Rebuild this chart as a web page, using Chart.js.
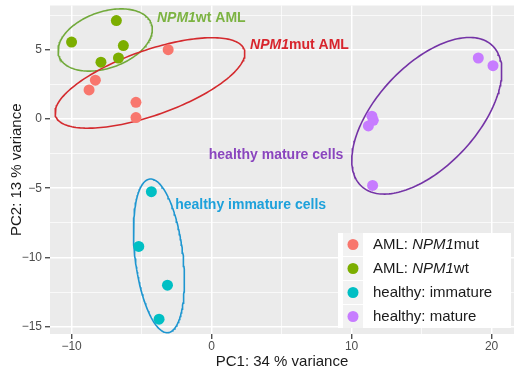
<!DOCTYPE html>
<html>
<head>
<meta charset="utf-8">
<script src="https://cdn.jsdelivr.net/npm/chart.js@4.4.0/dist/chart.umd.min.js"></script>
<style>
  html, body { margin: 0; padding: 0; background: #fff; }
  #wrap { width: 520px; height: 368px; }
</style>
</head>
<body>
<div id="wrap"><canvas id="pca"></canvas></div>
<script>
// groups / legend
var groupNames = ['AML: NPM1mut', 'AML: NPM1wt', 'healthy: immature', 'healthy: mature'];
var groupColors = ['#F8766D', '#7CAE00', '#00BFC4', '#C77CFF'];

// PC1 / PC2 scores
var mutPC1 = [-3.1, -8.3, -8.75, -5.4, -5.4];
var mutPC2 = [5.0, 2.8, 2.1, 1.2, 0.1];
var wtPC1 = [-10.0, -6.8, -6.3, -6.65, -7.9];
var wtPC2 = [5.55, 7.1, 5.3, 4.4, 4.1];
var immPC1 = [-4.3, -5.2, -3.15, -3.75];
var immPC2 = [-5.25, -9.2, -12.0, -14.45];
var matPC1 = [19.05, 20.1, 11.45, 11.55, 11.2, 11.5];
var matPC2 = [4.4, 3.85, 0.2, -0.1, -0.5, -4.8];

var xTicks = [-10, 0, 10, 20];
var yTicks = [-15, -10, -5, 0, 5];

// hand drawn ellipses (centre, semi axes, tilt in degrees)
var ellCx = [-4.4, -7.6, -3.76, 15.37];
var ellCy = [2.6, 5.7, -9.88, 0.23];
var ellA = [7.15, 3.5, 5.58, 6.9];
var ellB = [2.34, 2.03, 1.71, 3.61];
var ellTilt = [19.7, 19.7, -83.3, 47.7];
var ellColors = ['#D42A2E', '#72AA3C', '#1E96D0', '#7433A6'];

// group labels
var noteItalic = ['NPM1', 'NPM1', '', ''];
var noteRest = ['mut AML', 'wt AML', 'healthy immature cells', 'healthy mature cells'];
var noteX = [2.75, -3.9, -2.6, -0.2];
var noteY = [5.36, 7.26, -6.2, -2.6];
var noteColors = ['#D8252D', '#7CB342', '#1DA1DB', '#8A45BE'];

var FONT = '"Liberation Sans", Arial, sans-serif';
Chart.defaults.font.family = FONT;

function pairs(xs, ys) {
  var out = [];
  for (var i = 0; i < xs.length; i++) out.push({ x: xs[i], y: ys[i] });
  return out;
}

function ellipse(i) {
  var pts = [];
  var t = ellTilt[i] * Math.PI / 180;
  for (var k = 0; k <= 180; k++) {
    var a = k / 180 * 2 * Math.PI;
    var u = ellA[i] * Math.cos(a), v = ellB[i] * Math.sin(a);
    pts.push({ x: ellCx[i] + u * Math.cos(t) - v * Math.sin(t), y: ellCy[i] + u * Math.sin(t) + v * Math.cos(t) });
  }
  return pts;
}

var groupPoints = [pairs(mutPC1, mutPC2), pairs(wtPC1, wtPC2), pairs(immPC1, immPC2), pairs(matPC1, matPC2)];

var datasets = [];
for (var g = 0; g < 4; g++) {
  datasets.push({
    label: groupNames[g],
    data: groupPoints[g],
    backgroundColor: groupColors[g],
    borderWidth: 0,
    pointRadius: 5.5,
    pointHoverRadius: 5.5
  });
}
for (var e = 0; e < 4; e++) {
  datasets.push({
    label: 'ellipse' + e,
    data: ellipse(e),
    showLine: true,
    fill: false,
    tension: 0,
    borderColor: ellColors[e],
    borderWidth: 1.6,
    pointRadius: 0,
    pointHoverRadius: 0
  });
}

function withMinors(majors, min, max) {
  var step = majors[1] - majors[0];
  var vals = majors.slice();
  for (var i = 0; i < majors.length - 1; i++) vals.push((majors[i] + majors[i + 1]) / 2);
  if (majors[0] - step / 2 >= min) vals.push(majors[0] - step / 2);
  if (majors[majors.length - 1] + step / 2 <= max) vals.push(majors[majors.length - 1] + step / 2);
  vals.sort(function (a, b) { return a - b; });
  return vals.map(function (v) { return { value: v }; });
}

function fmt(v) { return v < 0 ? '\u2212' + Math.abs(v) : String(v); }

function axis(majors, min, max) {
  var isMajor = function (c) { return c.tick && majors.indexOf(c.tick.value) >= 0; };
  return {
    type: 'linear',
    min: min,
    max: max,
    afterBuildTicks: function (s) { s.ticks = withMinors(majors, min, max); },
    border: { display: false },
    grid: {
      color: '#FFFFFF',
      lineWidth: function (c) { return isMajor(c) ? 1.5 : 0.7; },
      tickColor: function (c) { return isMajor(c) ? '#333333' : 'rgba(0,0,0,0)'; },
      tickLength: 5,
      tickWidth: 1.2
    },
    ticks: {
      autoSkip: false,
      maxRotation: 0,
      color: '#4D4D4D',
      font: { size: 12 },
      callback: function (v) { return majors.indexOf(v) >= 0 ? fmt(v) : ''; }
    }
  };
}

var xAxis = axis(xTicks, -11.54, 21.6);
xAxis.afterFit = function (s) { s.height = 34; s.paddingLeft = 0; s.paddingRight = 0; };
xAxis.ticks.padding = 0;
xAxis.title = { display: true, text: 'PC1: 34 % variance', color: '#1A1A1A', font: { size: 15, lineHeight: '13px' }, padding: 0 };

var yAxis = axis(yTicks, -15.52, 8.19);
yAxis.afterFit = function (s) { s.width = 50; s.paddingTop = 0; s.paddingBottom = 0; };
yAxis.ticks.padding = 3;
yAxis.title = { display: true, text: 'PC2: 13 % variance', color: '#1A1A1A', font: { size: 15, lineHeight: '13px' }, padding: { top: 10, bottom: 0 } };

function richText(ctx, italicPart, rest, x, y, size, weight, color) {
  ctx.fillStyle = color;
  ctx.textBaseline = 'middle';
  ctx.textAlign = 'left';
  if (italicPart) {
    ctx.font = 'italic ' + weight + ' ' + size + 'px ' + FONT;
    ctx.fillText(italicPart, x, y);
    x += ctx.measureText(italicPart).width;
  }
  ctx.font = weight + ' ' + size + 'px ' + FONT;
  ctx.fillText(rest, x, y);
}

var panel = {
  id: 'panel',
  beforeDraw: function (chart) {
    var c = chart.ctx, a = chart.chartArea;
    c.save();
    c.fillStyle = '#FFFFFF';
    c.fillRect(0, 0, chart.width, chart.height);
    c.fillStyle = '#EBEBEB';
    c.fillRect(a.left, a.top, a.right - a.left, a.bottom - a.top);
    c.restore();
  },
  afterDatasetsDraw: function (chart) {
    var c = chart.ctx, xs = chart.scales.x, ys = chart.scales.y;
    c.save();
    for (var i = 0; i < noteRest.length; i++) {
      richText(c, noteItalic[i], noteRest[i], xs.getPixelForValue(noteX[i]), ys.getPixelForValue(noteY[i]), 14, 'bold', noteColors[i]);
    }
    c.restore();
  },
  afterDraw: function (chart) {
    var c = chart.ctx, a = chart.chartArea;
    var w = 173, h = 95;
    var left = a.right - 3 - w, top = a.bottom - 6 - h;
    c.save();
    c.fillStyle = '#FFFFFF';
    c.fillRect(left, top, w, h);
    for (var i = 0; i < groupNames.length; i++) {
      var cy = top + 11.5 + i * 24;
      c.fillStyle = '#F2F2F2';
      c.fillRect(left + 5, cy - 11.5, 20, 23);
      c.beginPath();
      c.arc(left + 15, cy, 5.5, 0, Math.PI * 2);
      c.fillStyle = groupColors[i];
      c.fill();
      var parts = groupNames[i].split('NPM1');
      if (parts.length > 1) {
        richText(c, '', parts[0], left + 35, cy, 15, 'normal', '#1A1A1A');
        c.font = '15px ' + FONT;
        var x2 = left + 35 + c.measureText(parts[0]).width;
        richText(c, 'NPM1', parts[1], x2, cy, 15, 'normal', '#1A1A1A');
      } else {
        richText(c, '', groupNames[i], left + 35, cy, 15, 'normal', '#1A1A1A');
      }
    }
    c.restore();
  }
};

new Chart(document.getElementById('pca'), {
  type: 'scatter',
  data: { datasets: datasets },
  options: {
    responsive: true,
    maintainAspectRatio: false,
    animation: false,
    layout: { padding: { top: 2, right: 6, left: 0, bottom: 0 } },
    plugins: { legend: { display: false }, tooltip: { enabled: false } },
    scales: { x: xAxis, y: yAxis }
  },
  plugins: [panel]
});
</script>
</body>
</html>
